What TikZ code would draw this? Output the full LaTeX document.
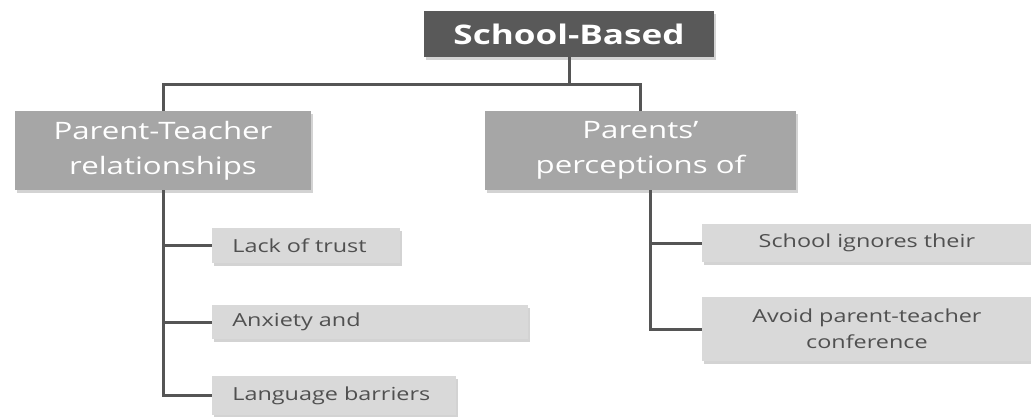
\documentclass[tikz,border=0pt]{standalone}
\usepackage{fontspec}
\setmainfont{Open Sans}[FakeStretch=1.3]
\usetikzlibrary{positioning,shadows}

\definecolor{topgray}{HTML}{595959}
\definecolor{midgray}{HTML}{A6A6A6}
\definecolor{leafgray}{HTML}{D9D9D9}
\definecolor{leaftext}{HTML}{505050}
\definecolor{linegray}{HTML}{555555}

\begin{document}
\begin{tikzpicture}[x=1pt,y=-1pt,thick,
    box/.style={rectangle,inner sep=0pt,align=center,
        drop shadow={shadow xshift=1.5pt,shadow yshift=-2.5pt,opacity=0.35}},
    top node/.style={box,fill=topgray,text=white,
        font=\fontsize{27}{30}\selectfont\bfseries},
    main node/.style={box,fill=midgray,text=white,
        font=\fontsize{24}{35}\selectfont},
    leaf node/.style={box,fill=leafgray,text=leaftext,anchor=west,
        font=\fontsize{18}{26}\selectfont},
    link/.style={draw=linegray,line width=3pt}]
\useasboundingbox (0,0) rectangle (1031,416);
\clip (0,0) rectangle (1031,416);

\node[top node,minimum width=290pt,minimum height=46pt] (top) at (569,34) {School-Based};
\node[main node,minimum width=296pt,minimum height=79pt] (ptr) at (163,150.5)
    {Parent-Teacher\\relationships};
\node[main node,minimum width=311pt,minimum height=79pt] (ppo) at (640.5,150.5)
    {Parents{\char"27}\\perceptions of};

\node[leaf node,minimum width=188pt,minimum height=35pt,text width=148pt,align=left]
    (trust) at (212,245.5) {Lack of trust};
\node[leaf node,minimum width=316pt,minimum height=34pt,text width=276pt,align=left]
    (anxiety) at (212,322) {Anxiety and};
\node[leaf node,minimum width=244pt,minimum height=39pt,text width=204pt,align=left]
    (language) at (212,395.5) {Language barriers};

\node[leaf node,minimum width=329pt,minimum height=38pt,text width=329pt]
    (ignores) at (702,243) {School ignores their};
\node[leaf node,minimum width=329pt,minimum height=64pt,text width=329pt]
    (avoid) at (702,329) {Avoid parent-teacher\\conference};

% top level
\draw[link] (top.south) -- ++(0,27) coordinate (bus);
\draw[link] (ptr.north) |- (bus) -| (ppo.north);

% left branch
\draw[link] (ptr.south) |- (language.west);
\draw[link] (ptr.south |- trust.west) -- (trust.west);
\draw[link] (ptr.south |- anxiety.west) -- (anxiety.west);

% right branch
\draw[link] ([xshift=10pt]ppo.south) |- (avoid.west);
\draw[link] ([xshift=10pt]ppo.south |- ignores.west) -- (ignores.west);

\end{tikzpicture}
\end{document}
